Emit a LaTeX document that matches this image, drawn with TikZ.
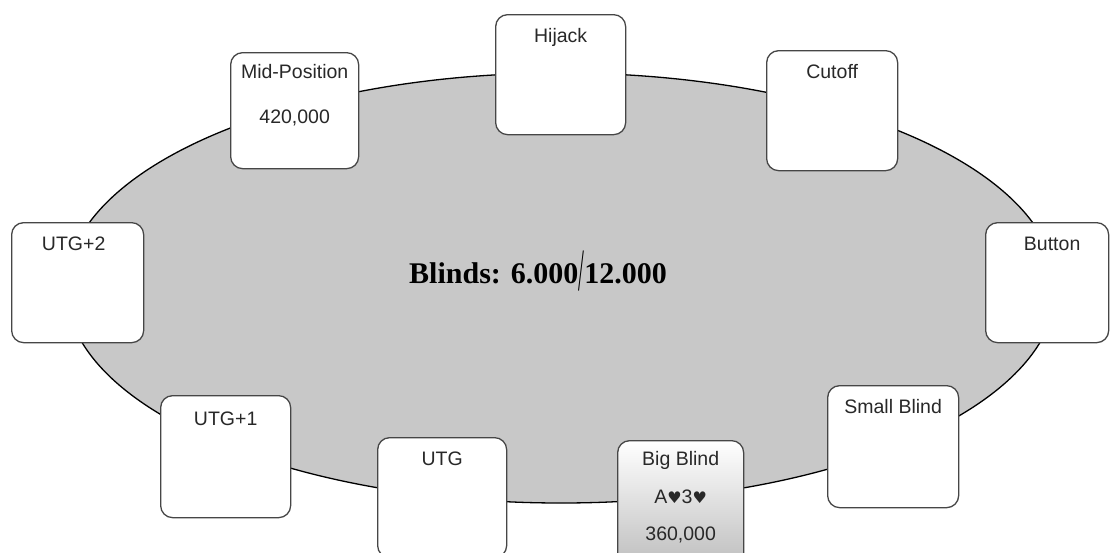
\documentclass[tikz,border=0pt]{standalone}
\usepackage{fontspec}
\setmainfont{Liberation Sans}
\newfontfamily\blindsfont{Liberation Serif}
\newfontfamily\suitfont{DejaVu Sans}
\usetikzlibrary{shadings}
\definecolor{tablegray}{RGB}{200,200,200}
\definecolor{boxedge}{RGB}{70,70,70}
\definecolor{txtgray}{RGB}{40,40,40}
\begin{document}
\begin{tikzpicture}[x=1pt,y=-1pt,
  seat/.style={draw=boxedge, line width=1.3pt, fill=white, rounded corners=12pt,
    minimum width=130pt, minimum height=120pt, anchor=north west, inner sep=0pt},
  seattext/.style={anchor=base, text=txtgray, font=\fontsize{19.5}{22}\selectfont, inner sep=0pt},
]
\useasboundingbox[fill=white] (0,0) rectangle (1110,552);
% table
\draw[fill=tablegray, line width=1.3pt] (561,288) ellipse [x radius=495pt, y radius=215pt];
\node[font=\blindsfont\bfseries\fontsize{30}{34}\selectfont, anchor=base, inner sep=0pt] (blinds) at (538,283)
  {Blinds: 6.000\raisebox{-7pt}{\scalebox{0.7}[2.0]{\mdseries /}}12.000};
% seats
\node[seat] (hij) at (495,14) {};
\node[seat, minimum width=131pt] (cut) at (766,50) {};
\node[seat, minimum width=128pt, minimum height=116pt] (mid) at (230,52) {};
\node[seat, minimum width=132pt] (utg2) at (11,222) {};
\node[seat, minimum width=123pt] (btn) at (985,222) {};
\node[seat, minimum height=122pt] (utg1) at (160,395) {};
\node[seat, minimum width=129pt] (utg) at (377,437) {};
\node[seat, minimum width=131pt, minimum height=122pt] (sb) at (827,385) {};
\node[seat, minimum width=126pt, minimum height=126pt, top color=white, bottom color={rgb,255:red,190;green,190;blue,190}] (bb) at (617,440) {};
% labels
\node[seattext] (hijT) at ([yshift=-28pt]hij.north) {Hijack};
\node[seattext] (cutT) at ([yshift=-28pt]cut.north) {Cutoff};
\node[seattext] (midT) at ([yshift=-26pt]mid.north) {Mid-Position};
\node[seattext] (midC) at ([yshift=-71pt]mid.north) {420,000};
\node[seattext] (utg2T) at ([yshift=-28pt,xshift=-4pt]utg2.north) {UTG+2};
\node[seattext] (btnT) at ([yshift=-28pt,xshift=5pt]btn.north) {Button};
\node[seattext] (utg1T) at ([yshift=-30pt]utg1.north) {UTG+1};
\node[seattext] (utgT) at ([yshift=-28pt]utg.north) {UTG};
\node[seattext] (sbT) at ([yshift=-28pt]sb.north) {Small Blind};
\node[seattext] (bbT) at ([yshift=-25pt]bb.north) {Big Blind};
\node[seattext] (bbH) at ([yshift=-63pt]bb.north) {A{\suitfont\fontsize{16}{18}\selectfont ♥}3{\suitfont\fontsize{16}{18}\selectfont ♥}};
\node[seattext] (bbC) at ([yshift=-100pt]bb.north) {360,000};
\end{tikzpicture}
\end{document}
